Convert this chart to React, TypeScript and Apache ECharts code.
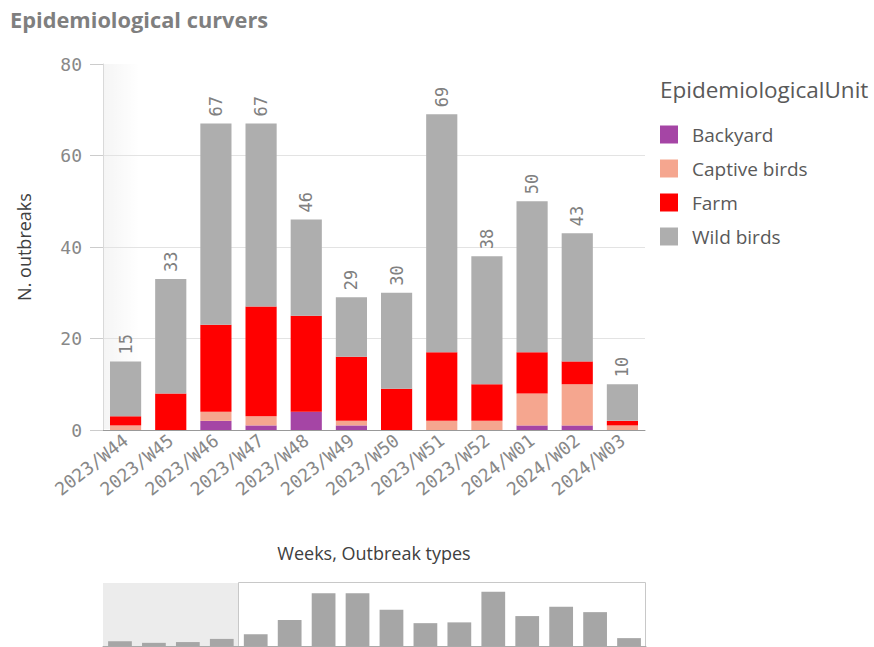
import React, { useEffect, useRef } from "react";
import * as echarts from "echarts";

const weeks = [
  "2023/W44", "2023/W45", "2023/W46", "2023/W47", "2023/W48", "2023/W49",
  "2023/W50", "2023/W51", "2023/W52", "2024/W01", "2024/W02", "2024/W03",
];
const backyard = [0, 0, 2, 1, 4, 1, 0, 0, 0, 1, 1, 0];
const captiveBirds = [1, 0, 2, 2, 0, 1, 0, 2, 2, 7, 9, 1];
const farm = [2, 8, 19, 24, 21, 14, 9, 15, 8, 9, 5, 1];
const wildBirds = [12, 25, 44, 40, 21, 13, 21, 52, 28, 33, 28, 8];

const earlierWeeks = ["2023/W40", "2023/W41", "2023/W42", "2023/W43"];
const earlierTotals = [6, 4, 5, 9];

const yTicks = [0, 20, 40, 60, 80];

const seriesNames = ["Backyard", "Captive birds", "Farm", "Wild birds"];
const seriesColors = ["#a545a5", "#f5a68f", "#ff0000", "#aeaeae"];

const MONO = "'DejaVu Sans Mono', monospace";
const SANS = "'Open Sans', 'Noto Sans', sans-serif";

export default function App() {
  const ref = useRef<HTMLDivElement>(null);

  useEffect(() => {
    document.body.style.margin = "0";
    if (!ref.current) return;
    const chart = echarts.init(ref.current, undefined, { renderer: "svg" });

    const totals = weeks.map(
      (_, i) => backyard[i] + captiveBirds[i] + farm[i] + wildBirds[i]
    );
    const allWeeks = earlierWeeks.concat(weeks);
    const allTotals = earlierTotals.concat(totals);
    const values = [backyard, captiveBirds, farm, wildBirds];

    const mainSeries = values.map((data, k) => ({
      name: seriesNames[k],
      type: "bar",
      stack: "total",
      xAxisIndex: 0,
      yAxisIndex: 0,
      data,
      barCategoryGap: "31%",
      itemStyle: { color: seriesColors[k] },
      label:
        k === 3
          ? {
              show: true,
              position: "top",
              rotate: 90,
              align: "left",
              verticalAlign: "middle",
              distance: 7,
              fontFamily: MONO,
              fontSize: 17,
              color: "#808080",
              formatter: (p: any) => String(totals[p.dataIndex]),
            }
          : { show: false },
    }));

    chart.setOption({
      animation: false,
      textStyle: { fontFamily: SANS },
      title: [
        {
          text: "Epidemiological curvers",
          left: 10,
          top: 8,
          padding: 0,
          textStyle: {
            fontFamily: SANS,
            fontSize: 21.8,
            fontWeight: "bold",
            color: "#7f7f7f",
          },
        },
        {
          text: "EpidemiologicalUnit",
          left: 660,
          top: 78,
          padding: 0,
          textStyle: {
            fontFamily: SANS,
            fontSize: 22.5,
            fontWeight: "normal",
            color: "#595959",
          },
        },
      ],
      legend: {
        data: seriesNames,
        orient: "vertical",
        left: 660,
        top: 125,
        padding: 0,
        itemWidth: 18,
        itemHeight: 18,
        itemGap: 15,
        icon: "rect",
        selectedMode: false,
        textStyle: {
          fontFamily: SANS,
          fontSize: 19,
          color: "#595959",
          padding: [0, 0, 0, 9],
        },
      },
      grid: [
        { left: 103, top: 64, width: 542, height: 366 },
        { left: 103, top: 583, width: 543, height: 63 },
      ],
      xAxis: [
        {
          type: "category",
          gridIndex: 0,
          data: weeks,
          axisLine: { show: true, lineStyle: { color: "#999999", width: 1 } },
          axisTick: { show: false },
          axisLabel: {
            rotate: 38,
            margin: 8,
            fontFamily: MONO,
            fontSize: 18,
            color: "#888888",
          },
          name: "Weeks, Outbreak types",
          nameLocation: "middle",
          nameGap: 114,
          nameTextStyle: { fontFamily: SANS, fontSize: 18, color: "#404040" },
        },
        {
          type: "category",
          gridIndex: 1,
          data: allWeeks,
          axisLine: { show: true, lineStyle: { color: "#aaaaaa" } },
          axisTick: { show: false },
          axisLabel: { show: false },
        },
      ],
      yAxis: [
        {
          type: "value",
          gridIndex: 0,
          min: 0,
          max: 80,
          interval: 20,
          axisLine: { show: true, lineStyle: { color: "#d9d9d9" } },
          axisTick: { show: true, length: 13, lineStyle: { color: "#cccccc" } },
          axisLabel: {
            margin: 21,
            fontFamily: MONO,
            fontSize: 18,
            color: "#888888",
            formatter: (v: number) => (yTicks.includes(v) ? String(v) : ""),
          },
          splitLine: {
            show: true,
            showMaxLine: false,
            lineStyle: { color: "#e3e3e3" },
          },
          name: "N. outbreaks",
          nameLocation: "middle",
          nameGap: 70,
          nameTextStyle: { fontFamily: SANS, fontSize: 18, color: "#404040" },
        },
        {
          type: "value",
          gridIndex: 1,
          min: 0,
          max: 80,
          show: false,
          splitLine: { show: false },
        },
      ],
      graphic: [
        {
          type: "rect",
          z: 0,
          silent: true,
          shape: { x: 104, y: 64, width: 36, height: 365 },
          style: {
            fill: new echarts.graphic.LinearGradient(0, 0, 1, 0, [
              { offset: 0, color: "rgba(0,0,0,0.04)" },
              { offset: 1, color: "rgba(0,0,0,0)" },
            ]),
          },
        },
        {
          type: "rect",
          z: 0,
          silent: true,
          shape: { x: 103, y: 583, width: 135, height: 70 },
          style: { fill: "#ececec" },
        },
        {
          type: "rect",
          z: 0,
          silent: true,
          shape: { x: 238.5, y: 582.5, width: 407, height: 70 },
          style: { fill: "none", stroke: "#c8c8c8", lineWidth: 1 },
        },
      ],
      series: [
        ...mainSeries,
        {
          name: "mini",
          type: "bar",
          xAxisIndex: 1,
          yAxisIndex: 1,
          data: allTotals,
          barCategoryGap: "30%",
          itemStyle: { color: "#a6a6a6" },
          silent: true,
        },
      ],
    });

    return () => chart.dispose();
  }, []);

  return <div ref={ref} style={{ width: 874, height: 647 }} />;
}
